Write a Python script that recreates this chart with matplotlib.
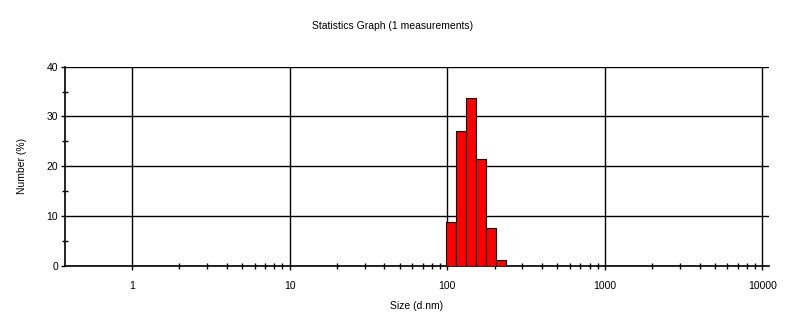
import numpy as np
import matplotlib.pyplot as plt
from matplotlib.ticker import FixedLocator, NullFormatter

# Size classes (d.nm) and number distribution (%)
sizes = [105.7, 122.4, 141.8, 164.2, 190.1, 220.2]
number_pct = [8.7, 27.0, 33.7, 21.5, 7.6, 1.2]

x_ticks = [1, 10, 100, 1000, 10000]
x_tick_labels = ["1", "10", "100", "1000", "10000"]
y_ticks = [0, 10, 20, 30, 40]
y_minor = [5, 15, 25, 35]

plt.rcParams["font.family"] = ["Liberation Sans Narrow", "Liberation Sans", "DejaVu Sans"]

fig = plt.figure(figsize=(7.85, 3.21), dpi=100)
ax = fig.add_axes([0.0828, 0.1723, 0.8968, 0.6199])

s = np.array(sizes)
ratio = np.sqrt(s[1] / s[0])
lefts = s / ratio
widths = s * ratio - lefts

ax.set_xscale("log")
ax.bar(lefts, number_pct, width=widths, align="edge",
       color="#ff0000", edgecolor="black", linewidth=0.8, zorder=3)

ax.set_xlim(0.376, 11000)
ax.set_ylim(0, 40)

# minor ticks only from 1 upwards, as in the original instrument plot
x_minor = [m * d for d in x_ticks[:-1] for m in range(2, 10)]
ax.xaxis.set_major_locator(FixedLocator(x_ticks))
ax.set_xticklabels(x_tick_labels)
ax.xaxis.set_minor_locator(FixedLocator(x_minor))
ax.xaxis.set_minor_formatter(NullFormatter())
ax.yaxis.set_major_locator(FixedLocator(y_ticks))
ax.yaxis.set_minor_locator(FixedLocator(y_minor))

ax.grid(True, which="major", color="black", linewidth=1.0, zorder=1)
for side in ["top", "right"]:
    ax.spines[side].set_visible(False)
for side in ["left", "bottom"]:
    ax.spines[side].set_linewidth(1.2)

ax.tick_params(axis="both", which="major", direction="out", length=3,
               width=1, labelsize=7.5, pad=8, color="black")
ax.tick_params(axis="both", which="minor", direction="inout", length=4, width=1)
ax.tick_params(axis="y", which="major", pad=2)

ax.set_xlabel("Size (d.nm)", fontsize=7.5, labelpad=7)
ax.set_ylabel("Number (%)", fontsize=7.5, labelpad=14)
fig.suptitle("Statistics Graph (1 measurements)", fontsize=7.5, y=0.935)

fig.savefig("out.png", dpi=100)
